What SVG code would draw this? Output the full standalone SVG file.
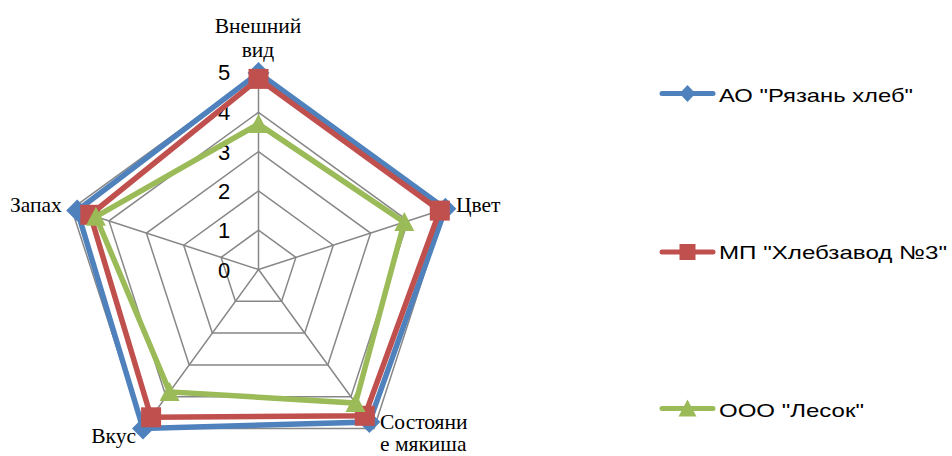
<svg xmlns="http://www.w3.org/2000/svg" width="952" height="456" viewBox="0 0 952 456">
<style>
.grid{fill:none;stroke:#878787;stroke-width:1.5}
.axl{font-family:"Liberation Serif","Times New Roman",serif;font-size:21.5px;fill:#000}
.tick{font-family:"Liberation Sans",Arial,sans-serif;font-size:22px;fill:#000;text-anchor:middle}
.leg{font-family:"Liberation Sans",Arial,sans-serif;font-size:19px;fill:#000}
.sb{fill:none;stroke:#4F81BD;stroke-width:5.5;stroke-linejoin:miter}
.sr{fill:none;stroke:#C0504D;stroke-width:5.5;stroke-linejoin:miter}
.sg{fill:none;stroke:#9BBB59;stroke-width:5.5;stroke-linejoin:miter}
.mb{fill:#4F81BD}
.mr{fill:#C0504D}
.mg{fill:#9BBB59}
</style>
<defs>
<path id="dia" d="M0,-11 L11,0 L0,11 L-11,0 Z"/>
<rect id="sq" x="-10" y="-10" width="20" height="20"/>
<path id="tri" d="M0,-10 L10,9 L-10,9 Z"/>
<path id="ldia" d="M0,-8.5 L8,0 L0,8.5 L-8,0 Z"/>
<rect id="lsq" x="-8" y="-8" width="16" height="16"/>
<path id="ltri" d="M0,-9 L9,8 L-9,8 Z"/>
</defs>
<rect width="952" height="456" fill="#fff"/>
<g id="grid">
<polygon class="grid" points="258.5,230.2 295.9,257.4 281.6,301.3 235.4,301.3 221.1,257.4"/>
<polygon class="grid" points="258.5,190.9 333.3,245.2 304.7,333.1 212.3,333.1 183.7,245.2"/>
<polygon class="grid" points="258.5,151.6 370.6,233.1 327.8,364.9 189.2,364.9 146.4,233.1"/>
<polygon class="grid" points="258.5,112.3 408.0,220.9 350.9,396.7 166.1,396.7 109.0,220.9"/>
<polygon class="grid" points="258.5,73.0 445.4,208.8 374.0,428.5 143.0,428.5 71.6,208.8"/>
<path class="grid" d="M258.5,269.5 L258.5,73 M258.5,269.5 L445.4,208.8 M258.5,269.5 L374,428.5 M258.5,269.5 L143,428.5 M258.5,269.5 L71.6,208.8"/>
</g>
<g id="ticks">
<text class="tick" x="224" y="278">0</text>
<text class="tick" x="224" y="238">1</text>
<text class="tick" x="224" y="199">2</text>
<text class="tick" x="224" y="160">3</text>
<text class="tick" x="224" y="120">4</text>
<text class="tick" x="224" y="80">5</text>
</g>
<g id="axis-labels">
<text class="axl" x="258" y="33" text-anchor="middle">Внешний</text>
<text class="axl" x="258" y="57" text-anchor="middle">вид</text>
<text class="axl" x="456" y="212">Цвет</text>
<text class="axl" x="380" y="429">Состояни</text>
<text class="axl" x="380" y="451">е мякиша</text>
<text class="axl" x="136" y="443" text-anchor="end">Вкус</text>
<text class="axl" x="10" y="212">Запах</text>
</g>
<g id="series-blue">
<polygon class="sb" points="258.5,73 445.4,208.8 369.4,422.1 143,428.5 77.2,210.6"/>
<use href="#dia" class="mb" x="258.5" y="73"/>
<use href="#dia" class="mb" x="445.4" y="208.8"/>
<use href="#dia" class="mb" x="369.4" y="422.1"/>
<use href="#dia" class="mb" x="143" y="428.5"/>
<use href="#dia" class="mb" x="77.2" y="210.6"/>
</g>
<g id="series-red">
<polygon class="sr" points="258.5,78.9 439.8,210.6 364.8,415.8 151.1,417.3 90.3,214.8"/>
<use href="#sq" class="mr" x="258.5" y="78.9"/>
<use href="#sq" class="mr" x="439.8" y="210.6"/>
<use href="#sq" class="mr" x="364.8" y="415.8"/>
<use href="#sq" class="mr" x="151.1" y="417.3"/>
<use href="#sq" class="mr" x="90.3" y="214.8"/>
</g>
<g id="series-green">
<polygon class="sg" points="258.5,124.1 404.3,222.1 355.5,403.1 169.6,391.9 95.9,216.7"/>
<use href="#tri" class="mg" x="258.5" y="124.1"/>
<use href="#tri" class="mg" x="404.3" y="222.1"/>
<use href="#tri" class="mg" x="355.5" y="403.1"/>
<use href="#tri" class="mg" x="169.6" y="391.9"/>
<use href="#tri" class="mg" x="95.9" y="216.7"/>
</g>
<g id="legend">
<line x1="662" y1="93.5" x2="713" y2="93.5" stroke="#4F81BD" stroke-width="5" stroke-linecap="round"/>
<use href="#ldia" class="mb" x="687.5" y="93.5"/>
<text class="leg" x="719" y="101.5" textLength="194" lengthAdjust="spacingAndGlyphs">АО "Рязань хлеб"</text>
<line x1="662" y1="252" x2="713" y2="252" stroke="#C0504D" stroke-width="5" stroke-linecap="round"/>
<use href="#lsq" class="mr" x="687.5" y="252"/>
<text class="leg" x="719" y="258.5" textLength="228" lengthAdjust="spacingAndGlyphs">МП "Хлебзавод №3"</text>
<line x1="662" y1="408.5" x2="713" y2="408.5" stroke="#9BBB59" stroke-width="5" stroke-linecap="round"/>
<use href="#ltri" class="mg" x="687.5" y="408.5"/>
<text class="leg" x="719" y="416.5" textLength="145" lengthAdjust="spacingAndGlyphs">ООО "Лесок"</text>
</g>
</svg>
